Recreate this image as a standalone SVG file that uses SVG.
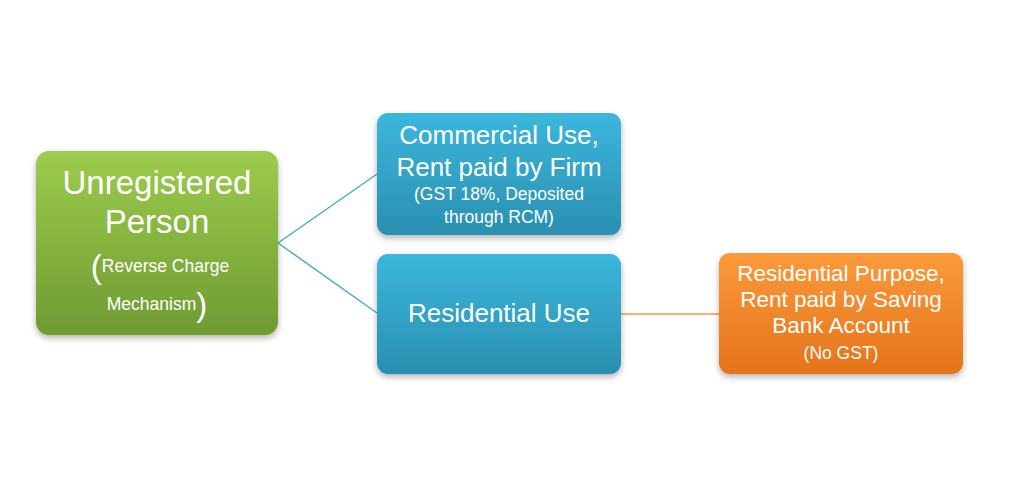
<svg xmlns="http://www.w3.org/2000/svg" width="1024" height="483" viewBox="0 0 1024 483">
<defs>
<linearGradient id="g" x1="0" y1="0" x2="0" y2="1"><stop offset="0" stop-color="#9dcb4c"/><stop offset="1" stop-color="#6e9b32"/></linearGradient>
<linearGradient id="b" x1="0" y1="0" x2="0" y2="1"><stop offset="0" stop-color="#3bb7dc"/><stop offset="1" stop-color="#2a8fb0"/></linearGradient>
<linearGradient id="o" x1="0" y1="0" x2="0" y2="1"><stop offset="0" stop-color="#fb9a3a"/><stop offset="1" stop-color="#e5731a"/></linearGradient>
<filter id="s" x="-10%" y="-10%" width="120%" height="130%"><feDropShadow dx="0" dy="3" stdDeviation="3" flood-color="#000" flood-opacity="0.3"/></filter>
</defs>
<style>
text{font-family:"Liberation Sans","Open Sans",sans-serif;fill:#fff;text-anchor:middle}
.l{font-size:33px}.m{font-size:26px}.sm{font-size:17.5px}.r{font-size:22.5px}
</style>
<rect width="1024" height="483" fill="#fff"/>
<g id="connectors" fill="none" stroke-width="1.5">
<path d="M278 243 L377 174 M278 243 L377 313" stroke="#4bacc6"/>
<path d="M621 314 L719 314" stroke="#f79646"/>
</g>
<g id="unregistered">
<rect x="36" y="151" width="242" height="184" rx="13" fill="url(#g)" filter="url(#s)"/>
<text x="157" y="194" class="l">Unregistered</text>
<text x="157" y="233" class="l">Person</text>
<text x="160" y="278"><tspan font-size="33px">(</tspan><tspan class="sm" dy="-6">Reverse Charge</tspan></text>
<text x="157" y="316"><tspan class="sm" dy="-6">Mechanism</tspan><tspan font-size="33px" dy="6">)</tspan></text>
</g>
<g id="commercial">
<rect x="377" y="113" width="244" height="122" rx="11" fill="url(#b)" filter="url(#s)"/>
<text x="499" y="144" class="m">Commercial Use,</text>
<text x="499" y="176" class="m">Rent paid by Firm</text>
<text x="499" y="200" class="sm">(GST 18%, Deposited</text>
<text x="499" y="223" class="sm">through RCM)</text>
</g>
<g id="residential">
<rect x="377" y="254" width="244" height="120" rx="11" fill="url(#b)" filter="url(#s)"/>
<text x="499" y="322" class="m">Residential Use</text>
</g>
<g id="purpose">
<rect x="719" y="253" width="244" height="121" rx="11" fill="url(#o)" filter="url(#s)"/>
<text x="841" y="281" class="r">Residential Purpose,</text>
<text x="841" y="307" class="r">Rent paid by Saving</text>
<text x="841" y="333" class="r">Bank Account</text>
<text x="841" y="359" class="sm" font-size="16.5px">(No GST)</text>
</g>
</svg>
